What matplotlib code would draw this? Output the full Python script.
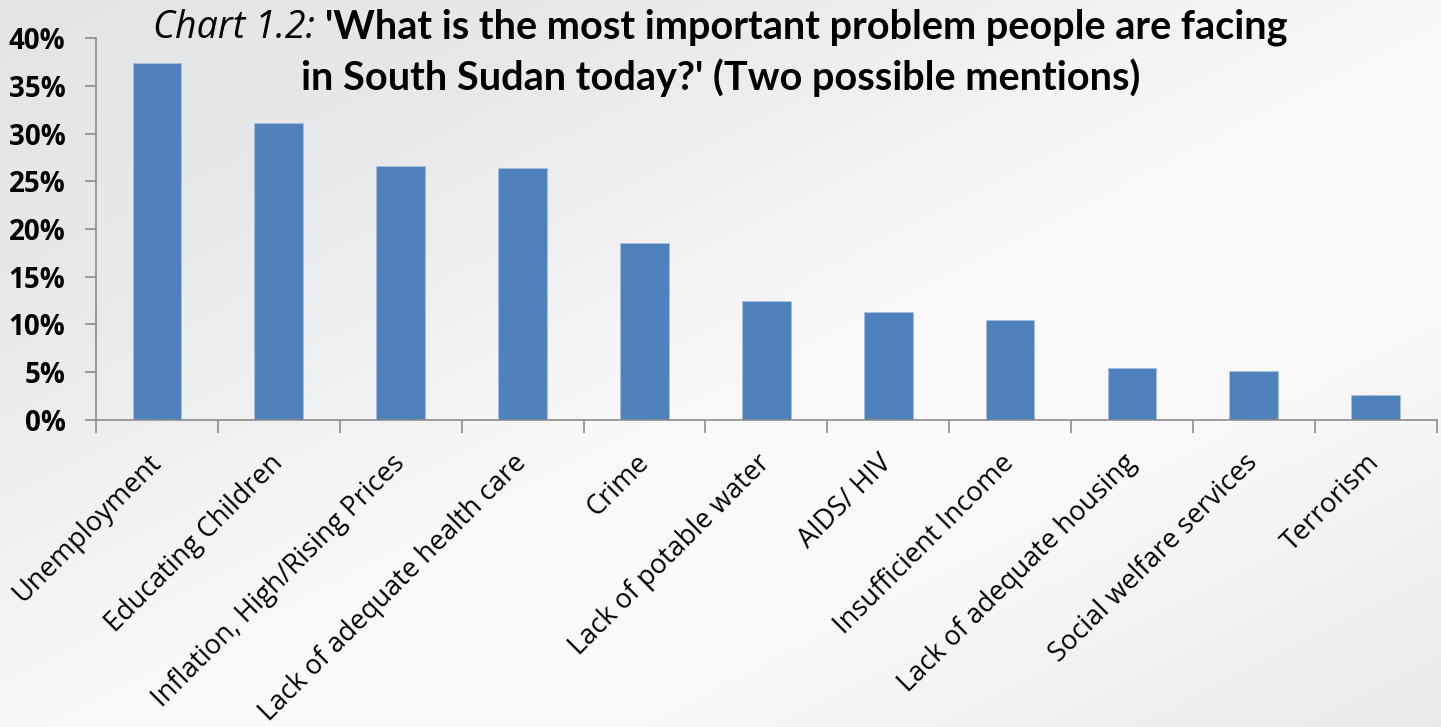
import numpy as np
import matplotlib.pyplot as plt
from matplotlib.colors import LinearSegmentedColormap

categories = ["Unemployment", "Educating Children", "Inflation, High/Rising Prices",
              "Lack of adequate health care", "Crime", "Lack of potable water",
              "AIDS/ HIV", "Insufficient Income", "Lack of adequate housing",
              "Social welfare services", "Terrorism"]
values = [37.4, 31.1, 26.6, 26.4, 18.5, 12.5, 11.3, 10.5, 5.4, 5.1, 2.6]
yticks = [0, 5, 10, 15, 20, 25, 30, 35, 40]

plt.rcParams['font.family'] = ['Open Sans', 'DejaVu Sans']

fig = plt.figure(figsize=(14.41, 7.27), dpi=100)

# soft diagonal background: grey corners, light band through the middle
bg = fig.add_axes([0, 0, 1, 1], zorder=-10)
xx, yy = np.meshgrid(np.linspace(0, 1, 300), np.linspace(0, 1, 150))
t = (xx + yy) / 2
shade = np.exp(-((t - 0.62) / 0.33) ** 2)
cmap = LinearSegmentedColormap.from_list("bg", ["#e3e4e6", "#fafafa"])
bg.imshow(shade, cmap=cmap, aspect='auto', extent=[0, 1, 1, 0], vmin=0, vmax=1)
bg.set_xlim(0, 1)
bg.set_ylim(1, 0)
bg.axis('off')

ax = fig.add_axes([0.0666, 0.4223, 0.9304, 0.5254])
ax.patch.set_alpha(0)
x = np.arange(len(categories))
ax.bar(x, values, width=0.4, color='#4f81bd', edgecolor='#a7c0de', linewidth=0.6)

ax.set_xlim(-0.5, len(categories) - 0.5)
ax.set_ylim(0, 40)
ax.set_yticks(yticks)
ax.set_yticklabels([f"{v}%" for v in yticks], fontsize=20, fontweight='bold')
ax.set_xticks(x)
ax.set_xticklabels(categories, fontsize=19.5, rotation=45, ha='right', va='center',
                   rotation_mode='anchor')
ax.set_xticks(np.arange(len(categories) + 1) - 0.5, minor=True)
ax.tick_params(axis='x', which='major', length=0, pad=28)
ax.tick_params(axis='x', which='minor', length=9, color='#8c8c8c', width=1.2)
ax.tick_params(axis='y', length=8, color='#8c8c8c', width=1.2, pad=14)

for s in ['top', 'right']:
    ax.spines[s].set_visible(False)
for s in ['left', 'bottom']:
    ax.spines[s].set_color('#8c8c8c')
    ax.spines[s].set_linewidth(1.2)

# two-line title: italic prefix followed by a bold question, both centred
renderer = fig.canvas.get_renderer()
bold = dict(fontweight='bold', family=['Lato', 'DejaVu Sans'])
y1 = 1 - 38 / 727
y2 = 1 - 90 / 727
t1 = fig.text(0, y1, "Chart 1.2: ", fontsize=27, style='italic', va='baseline')
t2 = fig.text(0, y1, "'What is the most important problem people are facing",
              va='baseline', fontsize=25, **bold)
# size the bold question so the first line spans its usual width
w2 = t2.get_window_extent(renderer).width
t2.set_fontsize(25 * 964 / w2)
w1 = t1.get_window_extent(renderer).width
w2 = t2.get_window_extent(renderer).width
left = (fig.bbox.width - w1 - w2) / 2
t1.set_x(left / fig.bbox.width)
t2.set_x((left + w1) / fig.bbox.width)
fig.text(0.5, y2, "in South Sudan today?' (Two possible mentions)", ha='center',
         va='baseline', fontsize=t2.get_fontsize(), **bold)

fig.savefig("out.png")
